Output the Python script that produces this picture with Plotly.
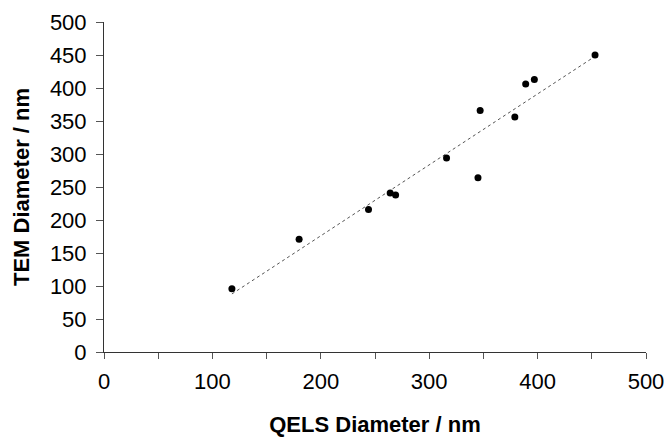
import numpy as np
import plotly.graph_objects as go

qels_nm = [118, 180, 244, 264, 269, 316, 345, 347, 379, 389, 397, 453]
tem_nm = [96, 171, 216, 241, 238, 294, 264, 366, 356, 406, 413, 450]
x_ticks = [0, 100, 200, 300, 400, 500]
y_ticks = [0, 50, 100, 150, 200, 250, 300, 350, 400, 450, 500]

slope, intercept = np.polyfit(qels_nm, tem_nm, 1)
fit_x = [min(qels_nm), max(qels_nm)]
fit_y = [slope * v + intercept for v in fit_x]

font = "Liberation Sans, Arial, sans-serif"

fig = go.Figure()
fig.add_trace(go.Scatter(x=fit_x, y=fit_y, mode="lines",
                         line=dict(color="#555555", width=1, dash="dot"),
                         hoverinfo="skip", showlegend=False))
fig.add_trace(go.Scatter(x=qels_nm, y=tem_nm, mode="markers",
                         marker=dict(color="black", size=7),
                         showlegend=False))

fig.update_layout(
    width=668, height=437,
    margin=dict(l=104, r=22, t=22, b=85),
    paper_bgcolor="white", plot_bgcolor="white",
    font=dict(family=font, size=22, color="black"),
    xaxis=dict(range=[0, 500], tickvals=x_ticks, showgrid=False, zeroline=False,
               automargin=False,
               showline=True, linecolor="#333333", linewidth=1,
               ticks="outside", ticklen=6, tickcolor="#555555",
               minor=dict(dtick=50, ticks="outside", ticklen=6, tickcolor="#555555"),
               ticklabelstandoff=4,
               title=dict(text="<b>QELS Diameter / nm</b>", standoff=24,
                          font=dict(size=22, family=font))),
    yaxis=dict(range=[0, 500], tickvals=y_ticks, showgrid=False, zeroline=False,
               automargin=False,
               showline=True, linecolor="#333333", linewidth=1,
               ticks="outside", ticklen=7, tickcolor="#555555",
               ticklabelstandoff=5,
               title=dict(text="<b>TEM Diameter / nm</b>", standoff=14,
                          font=dict(size=22, family=font))),
)

fig.write_html("out.html", config={"displayModeBar": False},
               post_script="document.body.style.margin='0px';document.body.style.overflow='hidden';")
